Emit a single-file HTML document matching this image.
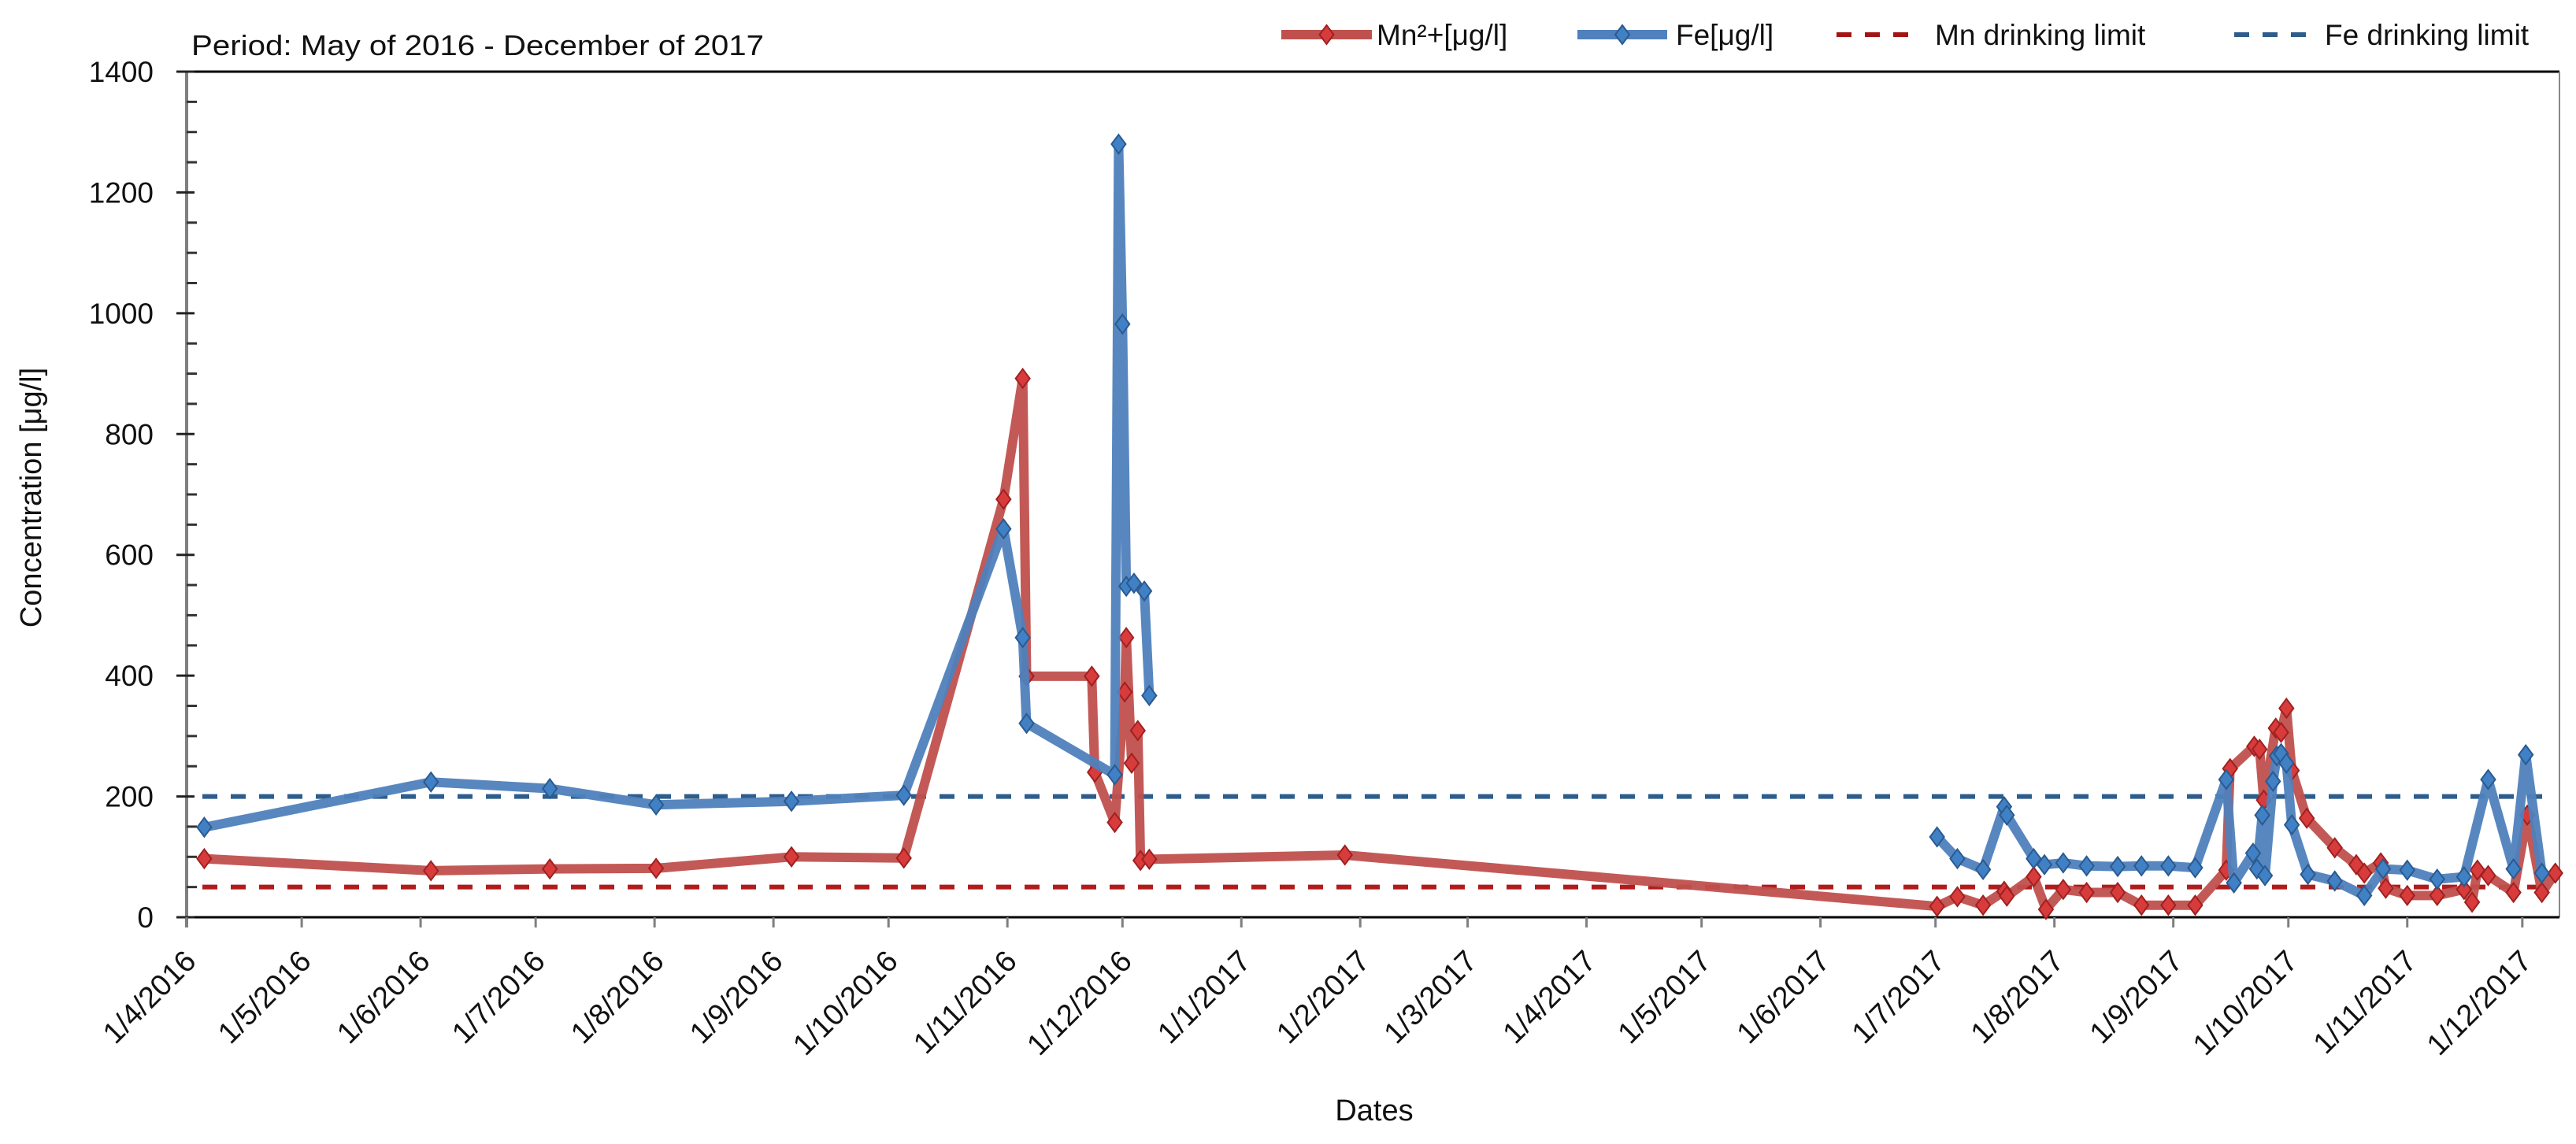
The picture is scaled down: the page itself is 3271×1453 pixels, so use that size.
<!DOCTYPE html>
<html><head><meta charset="utf-8"><style>
html,body{margin:0;padding:0;background:#fff;}
svg{display:block;font-family:"Liberation Sans",sans-serif;}
</style></head><body>
<svg id="chart" width="3271" height="1453" viewBox="0 0 3271 1453" xmlns="http://www.w3.org/2000/svg">
<rect width="3271" height="1453" fill="#fff"/>
<text x="243" y="70" font-size="36" textLength="727" lengthAdjust="spacingAndGlyphs" fill="#111">Period: May of 2016 - December of 2017</text>
<g id="legend"></g>
<g id="plot"></g>
<text transform="translate(52,632) rotate(-90)" text-anchor="middle" font-size="38" fill="#111">Concentration [μg/l]</text>
<text x="1745" y="1423" text-anchor="middle" font-size="38" fill="#111">Dates</text>
</svg>
<script>
// ---- data (days since 1 Apr 2016) ----
const tickLabels = ["1/4/2016","1/5/2016","1/6/2016","1/7/2016","1/8/2016","1/9/2016","1/10/2016","1/11/2016","1/12/2016","1/1/2017","1/2/2017","1/3/2017","1/4/2017","1/5/2017","1/6/2017","1/7/2017","1/8/2017","1/9/2017","1/10/2017","1/11/2017","1/12/2017"];
const tickDays = [0,30,61,91,122,153,183,214,244,275,306,334,365,395,426,456,487,518,548,579,609];
const yTicks = [0,200,400,600,800,1000,1200,1400];
const mnDays = [4.6,63.7,94.7,122.4,157.7,187,213,218,219,236,236.8,242,244.6,245,246.4,248,248.7,251,302,456.4,461.7,468.4,473.9,474.6,481.6,484.8,489.3,495.4,503.5,509.7,516.7,523.7,531.8,532.8,539.1,540.5,541.6,544.7,546.1,547.5,548.9,552.8,560.1,565.7,567.8,572.1,573.4,579,586.8,593.8,595.9,597.3,600.1,606.7,610.3,614.1,617.6];
const mnValues = [97,77,80,81,100,98,692,892,399,399,240,157,373,463,255,309,94,96,103,18,34,20,43,35,67,13,46,41,41,20,20,20,78,246,283,278,194,313,306,346,243,164,115,87,73,90,48,36,36,46,25,78,69,41,169,41,73];
const feDays = [4.6,63.7,94.7,122.4,157.7,187,213,218,219,242,243,244,245,247,249.7,251,456.4,461.7,468.4,473.9,474.6,481.6,484.4,489.3,495.4,503.5,509.7,516.7,523.7,531.8,533.8,538.8,539.8,541.2,541.9,544,545,546.1,547.5,548.9,553.1,560.1,567.8,572.7,579,586.8,593.8,600.1,606.7,609.9,614.1];
const feValues = [149,224,213,186,192,202,643,463,321,236,1280,982,548,553,540,367,133,97,79,183,169,97,87,90,85,84,85,85,82,228,57,106,80,169,69,225,267,271,255,153,71,60,36,80,78,63,67,228,80,269,73];
const mnLimit = [50];
const feLimit = [200];

const NS="http://www.w3.org/2000/svg";
const X0=237, X1=3250, Y0=1165, Y1=91, PXDAY=4.87;
const xS = d => X0 + d*PXDAY;
const yS = v => Y0 - (v/1400)*(Y0-Y1);
function mk(tag, attrs, parent){const e=document.createElementNS(NS,tag);for(const k in attrs)e.setAttribute(k,attrs[k]);parent.appendChild(e);return e;}
const plot=document.getElementById('plot');
const legend=document.getElementById('legend');

let a=mk('line',{x1:225,y1:Y1,x2:X1,y2:Y1,stroke:'#000','stroke-width':3},plot);


a=mk('line',{x1:X1,y1:Y1,x2:X1,y2:Y0,stroke:'#888','stroke-width':2},plot);


a=mk('line',{x1:X0,y1:Y1,x2:X0,y2:Y0+13,stroke:'#7f7f7f','stroke-width':4},plot);


a=mk('line',{x1:225,y1:Y0,x2:X1,y2:Y0,stroke:'#000','stroke-width':3},plot);



for(let v=50; v<1400; v+=50){
  if(v%200===0) continue;
  const t=mk('line',{x1:X0,y1:yS(v),x2:X0+13,y2:yS(v),stroke:'#333','stroke-width':3},plot);
  
  
}
yTicks.forEach(v=>{
  const t=mk('line',{x1:224,y1:yS(v),x2:X0+10,y2:yS(v),stroke:'#222','stroke-width':3},plot);
  
  
  const l=mk('text',{x:195,y:yS(v)+13,'text-anchor':'end','font-size':37,fill:'#111'},plot);
  l.textContent=v;
  
  
});
tickDays.forEach((d,i)=>{
  const x=xS(d);
  const t=mk('line',{x1:x,y1:Y0,x2:x,y2:Y0+13,stroke:'#7f7f7f','stroke-width':3},plot);
  
  
  const l=mk('text',{transform:`translate(${x+14},${Y0+58}) rotate(-45)`,'text-anchor':'end','font-size':38,fill:'#111'},plot);
  l.textContent=tickLabels[i];
  
  
});

let lim=mk('line',{x1:X0+20,y1:yS(feLimit[0]),x2:X1-5,y2:yS(feLimit[0]),stroke:'#2e5d8c','stroke-width':6,'stroke-dasharray':'19 17'},plot);


lim=mk('line',{x1:X0+20,y1:yS(mnLimit[0]),x2:X1-5,y2:yS(mnLimit[0]),stroke:'#b01c1c','stroke-width':6,'stroke-dasharray':'19 17'},plot);



function diamond(cx,cy,fill,edge,parent){
  return mk('path',{d:`M${cx} ${cy-12} L${cx+9} ${cy} L${cx} ${cy+12} L${cx-9} ${cy} Z`,fill:fill,stroke:edge,'stroke-width':2},parent);
}
function series(days,vals,line,mfill,medge,name,maxGap){
  const g=mk('g',{},plot);
  
  
  let segs=[[]];
  days.forEach((d,i)=>{
    if(i>0 && d-days[i-1]>maxGap) segs.push([]);
    segs[segs.length-1].push(xS(d).toFixed(1)+','+yS(vals[i]).toFixed(1));
  });
  segs.forEach(s=>{
    const pl=mk('polyline',{points:s.join(' '),fill:'none',stroke:line,'stroke-width':12,'stroke-linejoin':'round','stroke-opacity':0.95},g);
    
    
  });
  days.forEach((d,i)=>{
    const m=diamond(xS(d),yS(vals[i]),mfill,medge,g);
    
    
  });
}
series(mnDays,mnValues,'#c0504d','#d83b3b','#a02020','mn',1000);
series(feDays,feValues,'#4f81bd','#4080c4','#2a5a90','fe',100);

function legItem(x1,x2,tx,label,color,dashed,mfill,medge,name){
  const g=mk('g',{},legend);
  
  
  const attrs={x1:x1,y1:44,x2:x2,y2:44,stroke:color,'stroke-width':dashed?6:12};
  if(dashed) attrs['stroke-dasharray']='19 17';
  mk('line',attrs,g);
  if(!dashed) diamond((x1+x2)/2,44,mfill,medge,g);
  const t=mk('text',{x:tx,y:57,'font-size':37,fill:'#111'},g);
  t.textContent=label;
}
legItem(1627,1742,1748,'Mn²+[μg/l]','#c0504d',false,'#d83b3b','#a02020','legend-mn');
legItem(2003,2117,2128,'Fe[μg/l]','#4f81bd',false,'#4080c4','#2a5a90','legend-fe');
legItem(2332,2440,2457,'Mn drinking limit','#a31515',true,null,null,'legend-mn-limit');
legItem(2837,2945,2952,'Fe drinking limit','#2e5d8c',true,null,null,'legend-fe-limit');
</script>
</body></html>
